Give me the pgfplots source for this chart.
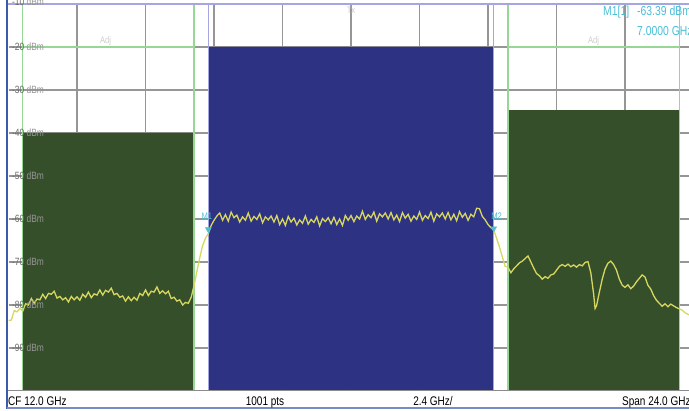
\documentclass[border=0pt]{standalone}
\usepackage{fontspec}
\setmainfont{Liberation Sans}[FakeStretch=0.8]
\usepackage{pgfplots}
\pgfplotsset{compat=1.18}
\definecolor{blk}{RGB}{46,50,130}
\definecolor{grn}{RGB}{53,79,43}
\definecolor{lim}{RGB}{150,215,150}
\definecolor{trc}{RGB}{215,215,95}
\definecolor{mk}{RGB}{75,190,215}
\definecolor{grd}{RGB}{150,150,150}
\definecolor{frm}{RGB}{60,90,170}
\definecolor{lav}{RGB}{165,165,225}
\definecolor{lbl}{RGB}{105,105,105}
\definecolor{lbll}{RGB}{150,150,150}
\begin{document}
\begin{tikzpicture}
\path[use as bounding box] (0bp,0bp) rectangle (689bp,411bp);
\begin{axis}[at={(8.5bp,20bp)}, anchor=south west, scale only axis,
  width=680.5bp, height=387bp,
  xmin=0, xmax=23.84, ymin=-100, ymax=-10,
  xtick={2.4,4.8,7.2,9.6,12,14.4,16.8,19.2,21.6},
  ytick={-90,-80,-70,-60,-50,-40,-30,-20},
  grid=major, major grid style={grd, line width=1.5bp},
  xticklabels={}, yticklabels={}, tick style={draw=none},
  axis line style={draw=none}]
% blocks
\addplot[fill=grn, draw=none] coordinates {(0.5,-100) (0.5,-40) (6.5,-40) (6.5,-100) (0.5,-100)};
\addplot[fill=grn, draw=none] coordinates {(17.5,-100) (17.5,-34.7) (23.5,-34.7) (23.5,-100) (17.5,-100)};
\addplot[fill=blk, draw=none] coordinates {(7.0,-100) (7.0,-20) (17.0,-20) (17.0,-100) (7.0,-100)};
% blue block edges
\addplot[lav, line width=1.2bp] coordinates {(7.0,-100) (7.0,-10)};
\addplot[lav, line width=1.2bp] coordinates {(17.0,-100) (17.0,-10)};
% limit lines
\addplot[lim, line width=1.4bp] coordinates {(0.5,-100) (0.5,-10)};
\addplot[lim, line width=1.4bp] coordinates {(6.5,-100) (6.5,-10)};
\addplot[lim, line width=1.4bp] coordinates {(17.5,-100) (17.5,-10)};
\addplot[lim, line width=1.4bp] coordinates {(23.5,-100) (23.5,-10)};
\addplot[lim, line width=1.4bp] coordinates {(0.5,-20) (6.5,-20)};
\addplot[lim, line width=1.4bp] coordinates {(17.5,-20) (23.5,-20)};
% trace
\addplot[trc, line width=1.3bp] coordinates {
(0.0,-83.6) (0.1,-83.5) (0.2,-81.3) (0.3,-81.6) (0.4,-80.8) (0.5,-81.4) (0.6,-79.7) (0.7,-80.0) (0.8,-78.5) (0.9,-79.6)
(1.0,-78.6) (1.1,-78.8) (1.2,-77.5) (1.3,-78.5) (1.4,-77.3) (1.5,-77.5) (1.6,-76.8) (1.7,-78.4) (1.8,-78.0) (1.9,-78.8)
(2.0,-78.3) (2.1,-79.3) (2.2,-78.0) (2.3,-78.8) (2.4,-78.1) (2.5,-78.9) (2.6,-77.5) (2.7,-78.2) (2.8,-77.0) (2.9,-78.3)
(3.0,-77.4) (3.1,-77.7) (3.2,-76.5) (3.3,-77.7) (3.4,-76.6) (3.5,-77.0) (3.6,-76.1) (3.7,-77.6) (3.8,-77.3) (3.9,-78.2)
(4.0,-77.9) (4.1,-79.1) (4.2,-78.1) (4.3,-79.0) (4.4,-78.2) (4.5,-78.9) (4.6,-77.3) (4.7,-77.8) (4.8,-76.5) (4.9,-77.8)
(5.0,-76.8) (5.1,-77.0) (5.2,-75.8) (5.3,-77.3) (5.4,-76.7) (5.5,-77.4) (5.6,-76.8) (5.7,-78.5) (5.8,-78.2) (5.9,-79.1)
(6.0,-78.8) (6.1,-80.0) (6.2,-79.4) (6.3,-79.6) (6.4,-78.2) (6.5,-75.5) (6.6,-72.2) (6.7,-69.0) (6.8,-66.2) (6.9,-64.5)
(7.0,-63.4) (7.1,-61.5) (7.2,-60.3) (7.3,-59.3)
(7.4,-58.6) (7.5,-60.3) (7.6,-59.0) (7.7,-60.5) (7.8,-58.4) (7.9,-59.7) (8.0,-59.1) (8.1,-60.7) (8.2,-59.5) (8.3,-60.3)
(8.4,-58.6) (8.5,-60.5) (8.6,-59.4) (8.7,-60.1) (8.8,-58.8) (8.9,-60.9) (9.0,-59.5) (9.1,-60.2) (9.2,-59.3) (9.3,-60.7)
(9.4,-59.2) (9.5,-61.3) (9.6,-60.0) (9.7,-61.5) (9.8,-59.4) (9.9,-60.7) (10.0,-59.8) (10.1,-61.4) (10.2,-60.2) (10.3,-61.0)
(10.4,-59.3) (10.5,-61.2) (10.6,-60.1) (10.7,-60.8) (10.8,-59.5) (10.9,-61.6) (11.0,-59.9) (11.1,-60.6) (11.2,-59.7) (11.3,-61.1)
(11.4,-59.6) (11.5,-61.3) (11.6,-60.0) (11.7,-61.5) (11.8,-59.2) (11.9,-60.3) (12.0,-59.2) (12.1,-60.6) (12.2,-59.3) (12.3,-60.0)
(12.4,-58.2) (12.5,-60.1) (12.6,-59.0) (12.7,-59.7) (12.8,-58.4) (12.9,-60.5) (13.0,-58.8) (13.1,-59.5) (13.2,-58.6) (13.3,-60.0)
(13.4,-58.5) (13.5,-60.2) (13.6,-59.1) (13.7,-60.6) (13.8,-58.5) (13.9,-59.8) (14.0,-58.9) (14.1,-60.5) (14.2,-59.3) (14.3,-60.1)
(14.4,-58.4) (14.5,-60.3) (14.6,-59.2) (14.7,-59.9) (14.8,-58.4) (14.9,-60.5) (15.0,-58.8) (15.1,-59.5) (15.2,-58.6) (15.3,-60.0)
(15.4,-58.5) (15.5,-60.2) (15.6,-58.9) (15.7,-60.4) (15.8,-58.3) (15.9,-59.6) (16.0,-58.7) (16.1,-60.3) (16.2,-58.9) (16.3,-59.5)
(16.4,-57.5) (16.5,-57.6) (16.6,-59.4) (16.7,-60.2) (16.8,-61.3) (16.9,-62.0) (17.0,-62.6) (17.1,-64.5) (17.2,-66.5) (17.3,-68.8)
(17.4,-71.0) (17.5,-71.2) (17.6,-72.5) (17.7,-71.6) (17.8,-70.9) (17.9,-70.2) (18.0,-69.8) (18.1,-69.2) (18.2,-68.6) (18.3,-70.0)
(18.4,-71.4) (18.5,-72.7) (18.6,-73.2) (18.7,-74.0) (18.8,-73.4) (18.9,-73.8) (19.0,-73.0) (19.1,-72.8) (19.2,-71.9) (19.3,-71.0)
(19.4,-70.6) (19.5,-71.0) (19.6,-70.5) (19.7,-71.1) (19.8,-70.7) (19.9,-71.2) (20.0,-70.6) (20.1,-70.9) (20.2,-70.1) (20.3,-69.9)
(20.4,-72.5) (20.5,-77.5) (20.55,-80.8) (20.6,-80.2) (20.7,-77.0) (20.8,-74.0) (20.9,-71.6) (21.0,-70.3) (21.1,-69.8) (21.2,-70.6)
(21.3,-71.9) (21.4,-74.0) (21.5,-75.4) (21.6,-75.9) (21.7,-75.3) (21.8,-76.2) (21.9,-75.6) (22.0,-74.6) (22.1,-73.8) (22.2,-73.0)
(22.3,-73.5) (22.4,-75.4) (22.5,-76.3) (22.6,-77.8) (22.7,-78.9) (22.8,-79.6) (22.9,-80.3) (23.0,-79.7) (23.1,-80.4) (23.2,-79.8)
(23.3,-80.2) (23.4,-80.6) (23.5,-80.9) (23.6,-81.2) (23.7,-81.8) (23.84,-82.3)
};
% markers
\addplot[only marks, mark=triangle*, mark size=3.4bp, mark options={rotate=180, fill=mk, draw=mk}] coordinates {(7.0,-62.4) (17.0,-62.2)};
\node[text=mk, font=\fontsize{9.5bp}{10bp}\selectfont, inner sep=0pt] at (axis cs:6.95,-59.4) {M1};
\node[text=mk, font=\fontsize{9.5bp}{10bp}\selectfont, inner sep=0pt] at (axis cs:17.1,-59.4) {M2};
% level labels
\pgfplotsinvokeforeach{-20,-30,-40,-50,-60,-70,-80,-90}{
  \node[anchor=west, inner sep=0pt, font=\fontsize{10.5bp}{11bp}\selectfont] at (axis cs:0.12,#1) {\textcolor{lbl}{#1} \textcolor{lbll}{dBm}};
}
\node[text=black!20, font=\fontsize{9.5bp}{10bp}\selectfont] at (axis cs:3.4,-18.6) {Adj};
\node[text=black!20, font=\fontsize{9.5bp}{10bp}\selectfont] at (axis cs:20.5,-18.6) {Adj};
\node[text=black!20, font=\fontsize{9.5bp}{10bp}\selectfont] at (axis cs:12,-11.4) {Tx};
\end{axis}
% frame
\draw[lav, line width=1.2bp] (7bp,407bp) -- (689bp,407bp);
\draw[black!45, line width=1bp] (7bp,20bp) -- (689bp,20bp);
\draw[frm, line width=1.4bp] (7bp,2bp) -- (7bp,411bp);
\draw[frm!70, line width=2bp] (7bp,2.5bp) -- (689bp,2.5bp);
\node[anchor=west, inner sep=0pt, font=\fontsize{10.5bp}{11bp}\selectfont] at (12bp,409.5bp) {\textcolor{lbl}{-10} \textcolor{lbll}{dBm}};
% footer
\node[anchor=base west, inner sep=0pt, font=\fontsize{12.5bp}{14bp}\selectfont] at (8bp,5.5bp) {CF 12.0 GHz};
\node[anchor=base, inner sep=0pt, font=\fontsize{12.5bp}{14bp}\selectfont] at (265bp,5.5bp) {1001 pts};
\node[anchor=base, inner sep=0pt, font=\fontsize{12.5bp}{14bp}\selectfont] at (433bp,5.5bp) {2.4 GHz/};
\node[anchor=base west, inner sep=0pt, font=\fontsize{12.5bp}{14bp}\selectfont] at (622bp,5.5bp) {Span 24.0 GHz};
% marker readout
\node[anchor=base west, inner sep=0pt, text=mk, font=\fontsize{13bp}{14bp}\selectfont] at (603bp,395bp) {M1[1]};
\node[anchor=base west, inner sep=0pt, text=mk, font=\fontsize{13bp}{14bp}\selectfont] at (637bp,395bp) {-63.39 dBm};
\node[anchor=base west, inner sep=0pt, text=mk, font=\fontsize{13bp}{14bp}\selectfont] at (637bp,375bp) {7.0000 GHz};
\end{tikzpicture}
\end{document}
